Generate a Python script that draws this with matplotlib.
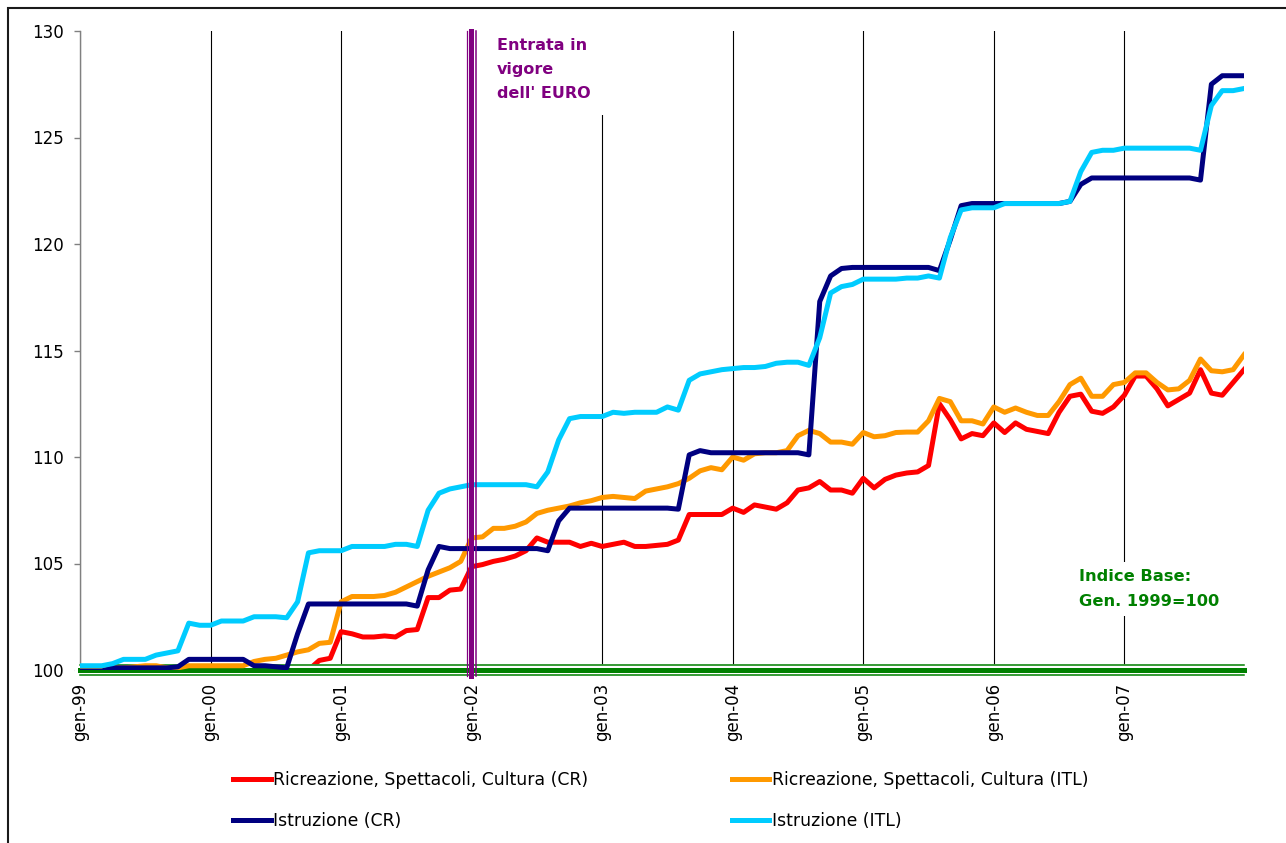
import matplotlib
matplotlib.use("Agg")
import matplotlib.pyplot as plt
from matplotlib.lines import Line2D
from matplotlib.patches import Rectangle

plt.rcParams['font.family'] = ['DejaVu Sans']

# monthly index, gen-99 (0) ... dic-07 (107)
months = list(range(108))
tick_pos = [0, 12, 24, 36, 48, 60, 72, 84, 96]
tick_labels = ["gen-99", "gen-00", "gen-01", "gen-02", "gen-03",
               "gen-04", "gen-05", "gen-06", "gen-07"]
y_ticks = [100, 105, 110, 115, 120, 125, 130]

base_index = 100
euro_month = 36

ricreazione_cr = [100.0] * 22 + [
    100.45, 100.55, 101.8, 101.7, 101.55, 101.55, 101.6, 101.55,
    101.85, 101.9, 103.4, 103.4, 103.75, 103.8, 104.85, 104.95, 105.1, 105.2,
    105.35, 105.6, 106.2, 106.0, 106.0, 106.0, 105.8, 105.95, 105.8, 105.9,
    106.0, 105.8, 105.8, 105.85, 105.9, 106.1, 107.3, 107.3, 107.3, 107.3,
    107.6, 107.4, 107.75, 107.65, 107.55, 107.85, 108.45, 108.55, 108.85, 108.45,
    108.45, 108.3, 109.0, 108.55, 108.95, 109.15, 109.25, 109.3, 109.6, 112.5,
    111.75, 110.85, 111.1, 111.0, 111.6, 111.15, 111.6, 111.3, 111.2, 111.1,
    112.1, 112.85, 112.95, 112.15, 112.05, 112.35, 112.9, 113.8, 113.8, 113.2,
    112.4, 112.7, 113.0, 114.1, 113.0, 112.9, 113.5, 114.1]

ricreazione_itl = [
    100.1, 100.1, 100.1, 100.1, 100.1, 100.15, 100.2, 100.2, 100.1, 100.1,
    100.2, 100.2, 100.2, 100.2, 100.2, 100.2, 100.4, 100.5, 100.55, 100.7,
    100.85, 100.95, 101.25, 101.3, 103.2, 103.45, 103.45, 103.45, 103.5, 103.65,
    103.9, 104.15, 104.4, 104.6, 104.8, 105.1, 106.2, 106.25, 106.65, 106.65,
    106.75, 106.95, 107.35, 107.5, 107.6, 107.7, 107.85, 107.95, 108.1, 108.15,
    108.1, 108.05, 108.4, 108.5, 108.6, 108.75, 109.0, 109.35, 109.5, 109.4,
    110.0, 109.85, 110.15, 110.2, 110.2, 110.3, 111.0, 111.25, 111.1, 110.7,
    110.7, 110.6, 111.15, 110.95, 111.0, 111.15, 111.17, 111.17, 111.7, 112.75,
    112.6, 111.7, 111.7, 111.55, 112.35, 112.1, 112.3, 112.1, 111.95, 111.95,
    112.6, 113.4, 113.7, 112.85, 112.85, 113.4, 113.5, 113.95, 113.95, 113.5,
    113.15, 113.2, 113.6, 114.6, 114.05, 114.0, 114.1, 114.8]

istruzione_cr = (
    [99.95] * 3 + [100.1] * 6 + [100.15, 100.5] + [100.5] * 5
    + [100.2, 100.2, 100.15, 100.1, 101.7, 103.1] + [103.1] * 9
    + [103.0, 104.7, 105.8] + [105.7] * 9
    + [105.6, 107.0, 107.6] + [107.6] * 9
    + [107.55, 110.1, 110.3] + [110.2] * 9
    + [110.1, 117.3, 118.5, 118.85] + [118.9] * 8
    + [118.75, 120.2, 121.8] + [121.9] * 9
    + [122.0, 122.8, 123.1] + [123.1] * 9
    + [123.0, 127.5, 127.9, 127.9, 127.9])

istruzione_itl = [
    100.2, 100.2, 100.2, 100.3, 100.5, 100.5, 100.5, 100.7, 100.8, 100.9,
    102.2, 102.1, 102.1, 102.3, 102.3, 102.3, 102.5, 102.5, 102.5, 102.45,
    103.2, 105.5, 105.6, 105.6, 105.6, 105.8, 105.8, 105.8, 105.8, 105.9,
    105.9, 105.8, 107.5, 108.3, 108.5, 108.6, 108.7, 108.7, 108.7, 108.7,
    108.7, 108.7, 108.6, 109.3, 110.8, 111.8, 111.9, 111.9, 111.9, 112.1,
    112.05, 112.1, 112.1, 112.1, 112.35, 112.2, 113.6, 113.9, 114.0, 114.1,
    114.15, 114.2, 114.2, 114.25, 114.4, 114.45, 114.45, 114.3, 115.6, 117.7,
    118.0, 118.1, 118.35, 118.35, 118.35, 118.35, 118.4, 118.4, 118.5, 118.4,
    120.3, 121.6, 121.7, 121.7, 121.7, 121.9, 121.9, 121.9, 121.9, 121.9,
    121.9, 122.0, 123.4, 124.3, 124.4, 124.4, 124.5, 124.5, 124.5, 124.5,
    124.5, 124.5, 124.5, 124.4, 126.5, 127.2, 127.2, 127.3]

red = "#FF0000"
orange = "#FF9900"
navy = "#000080"
cyan = "#00CCFF"
purple = "#800080"
green = "#008000"

fig = plt.figure(figsize=(12.86, 8.43), dpi=100)
ax = fig.add_axes([80 / 1286, 173 / 843, (1244 - 80) / 1286, (670 - 31) / 843])

lw = 3.6
ax.plot(months, ricreazione_cr, color=red, lw=lw, zorder=2, solid_joinstyle="round")
# base index line (white band + triple green line)
ax.axhline(base_index, color="white", lw=9, zorder=3, clip_on=False)
ax.axhline(base_index, color=green, lw=3.6, zorder=3.1, clip_on=False)
ax.axhline(base_index + 0.235, color=green, lw=1.1, zorder=3.1, clip_on=False)
ax.axhline(base_index - 0.235, color=green, lw=1.1, zorder=3.1, clip_on=False)
ax.plot(months, ricreazione_itl, color=orange, lw=lw, zorder=4, solid_joinstyle="round")
ax.plot(months, istruzione_cr, color=navy, lw=lw, zorder=5, solid_joinstyle="round")
ax.plot(months, istruzione_itl, color=cyan, lw=lw, zorder=6, solid_joinstyle="round")

# euro line
ax.axvline(euro_month - 0.06, ymin=-0.01, color=purple, lw=3.6, zorder=7, clip_on=False)
ax.axvline(euro_month - 0.38, ymin=-0.01, color=purple, lw=0.9, zorder=7, clip_on=False)
ax.axvline(euro_month + 0.44, ymin=-0.01, color=purple, lw=1.1, zorder=7, clip_on=False)

ax.set_xlim(0, 107)
ax.set_ylim(100, 130)
ax.set_xticks(tick_pos)
ax.set_xticklabels(tick_labels, rotation=90, va="top", ha="center")
ax.set_yticks(y_ticks)
ax.grid(axis="x", color="black", lw=0.8, zorder=1)
ax.set_axisbelow(True)

for s in ["top", "right", "bottom"]:
    ax.spines[s].set_visible(False)
ax.spines["left"].set_color("#808080")
ax.spines["left"].set_linewidth(1.0)
ax.tick_params(axis="y", direction="out", length=4.3, width=1, color="#808080",
               labelsize=12, pad=7.2)
ax.tick_params(axis="x", length=0, labelsize=12, pad=9.5)

ax.text(38.3, 129.66, "Entrata in\nvigore\ndell' EURO", color=purple, fontsize=11.5,
        fontweight="bold", va="top", ha="left", linespacing=1.75, zorder=8,
        bbox=dict(facecolor="white", edgecolor="none", pad=10))
ax.text(91.8, 104.76, "Indice Base:\nGen. 1999=100", color=green, fontsize=11.7,
        fontweight="bold", va="top", ha="left", linespacing=1.9, zorder=8,
        bbox=dict(facecolor="white", edgecolor="none", pad=5))

handles = [Line2D([], [], color=red, lw=lw), Line2D([], [], color=navy, lw=lw),
           Line2D([], [], color=orange, lw=lw), Line2D([], [], color=cyan, lw=lw)]
labels = ["Ricreazione, Spettacoli, Cultura (CR)", "Istruzione (CR)",
          "Ricreazione, Spettacoli, Cultura (ITL)", "Istruzione (ITL)"]
fig.legend(handles, labels, loc="upper left", bbox_to_anchor=(233 / 1286, 1 - 771 / 843),
           ncol=2, frameon=False, borderpad=0, borderaxespad=0, handlelength=2.2,
           handletextpad=0.15, columnspacing=8.3, labelspacing=1.32, fontsize=12.4)

fig.add_artist(Rectangle((8 / 1286, -0.01), 1.05, (843 - 8) / 843 + 0.01,
                         transform=fig.transFigure, fill=False,
                         edgecolor="#1a1a1a", lw=1.5))

fig.savefig("out.png", dpi=100)
